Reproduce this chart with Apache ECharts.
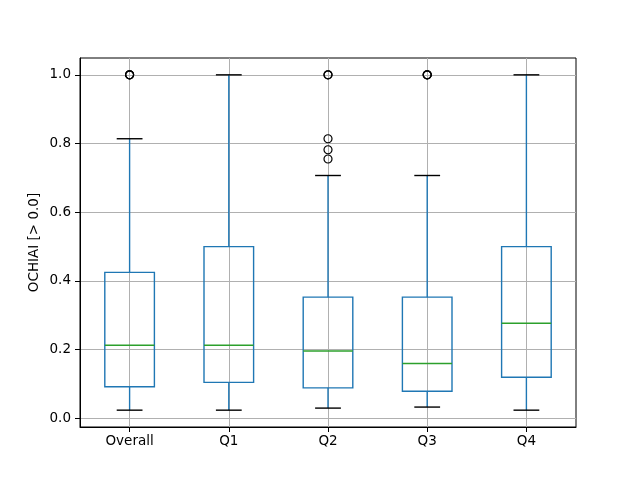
<!DOCTYPE html>
<html lang="en">
<head>
<meta charset="UTF-8">
<title>OCHIAI boxplot</title>
<script src="https://cdn.jsdelivr.net/npm/echarts@6/dist/echarts.min.js"></script>
</head>
<body style="margin:0">
<div id="main" style="width:640px;height:480px;"></div>
<script type="text/javascript">
// data
var categories = ['Overall', 'Q1', 'Q2', 'Q3', 'Q4'];
var lowWhisker = [0.024, 0.024, 0.030, 0.033, 0.024];
var q1 = [0.092, 0.105, 0.089, 0.079, 0.120];
var median = [0.213, 0.213, 0.196, 0.160, 0.277];
var q3 = [0.425, 0.500, 0.353, 0.353, 0.500];
var highWhisker = [0.814, 1.000, 0.707, 0.707, 1.000];
// outliers: [category index, value]
var outliers = [
    [0, 1.0], [0, 1.0], [0, 1.0],
    [2, 1.0], [2, 1.0], [2, 0.814], [2, 0.782], [2, 0.755],
    [3, 1.0], [3, 1.0], [3, 1.0]
];
var yTicks = [0, 0.2, 0.4, 0.6, 0.8, 1.0];
var xTicks = [0, 1, 2, 3, 4];

var boxData = categories.map(function (c, i) {
    return [i, lowWhisker[i], q1[i], median[i], q3[i], highWhisker[i]];
});

var blue = '#1f77b4', green = '#2ca02c';

function renderBox(params, api) {
    var i = api.value(0);
    var band = api.size([1, 0])[0];
    var hb = band * 0.25, hc = band * 0.13;
    var lo = api.coord([i, api.value(1)]);
    var b1 = api.coord([i, api.value(2)]);
    var md = api.coord([i, api.value(3)]);
    var b3 = api.coord([i, api.value(4)]);
    var hi = api.coord([i, api.value(5)]);
    var x = lo[0];
    var lw = 1.4;
    return {
        type: 'group',
        children: [
            {type: 'line', shape: {x1: x, y1: lo[1], x2: x, y2: b1[1]}, style: {stroke: blue, lineWidth: lw}},
            {type: 'line', shape: {x1: x, y1: b3[1], x2: x, y2: hi[1]}, style: {stroke: blue, lineWidth: lw}},
            {type: 'rect', shape: {x: x - hb, y: b3[1], width: hb * 2, height: b1[1] - b3[1]},
                style: {fill: 'none', stroke: blue, lineWidth: lw}},
            {type: 'line', shape: {x1: x - hb, y1: md[1], x2: x + hb, y2: md[1]}, style: {stroke: green, lineWidth: lw}},
            {type: 'line', shape: {x1: x - hc, y1: lo[1], x2: x + hc, y2: lo[1]}, style: {stroke: '#000', lineWidth: lw}},
            {type: 'line', shape: {x1: x - hc, y1: hi[1], x2: x + hc, y2: hi[1]}, style: {stroke: '#000', lineWidth: lw}}
        ]
    };
}

var myChart = echarts.init(document.getElementById('main'));
var option = {
    animation: false,
    grid: {
        left: 80, right: 64, top: 58, bottom: 53,
        show: true, borderColor: '#000', borderWidth: 1, backgroundColor: '#fff'
    },
    xAxis: {
        type: 'value',
        min: -0.5,
        max: 4.5,
        axisLine: {show: true, onZero: false, lineStyle: {color: '#000'}},
        axisTick: {show: true, length: 5, customValues: xTicks, lineStyle: {color: '#000'}},
        axisLabel: {
            customValues: xTicks, margin: 7, color: '#000', fontSize: 13.5,
            fontFamily: 'DejaVu Sans',
            formatter: function (v) { return categories[Math.round(v)]; }
        },
        splitLine: {show: true, lineStyle: {color: '#b0b0b0', width: 1}}
    },
    yAxis: {
        type: 'value',
        min: -0.025,
        max: 1.049,
        name: 'OCHIAI [> 0.0]',
        nameLocation: 'middle',
        nameGap: 39,
        nameMoveOverlap: false,
        nameTextStyle: {color: '#000', fontSize: 13.5, fontFamily: 'DejaVu Sans'},
        axisLine: {show: true, onZero: false, lineStyle: {color: '#000'}},
        axisTick: {show: true, length: 5, customValues: yTicks, lineStyle: {color: '#000'}},
        axisLabel: {
            customValues: yTicks, margin: 9, color: '#000', fontSize: 13.5,
            fontFamily: 'DejaVu Sans',
            formatter: function (v) { return v.toFixed(1); }
        },
        splitLine: {show: true, lineStyle: {color: '#b0b0b0', width: 1}}
    },
    series: [
        {
            type: 'custom',
            renderItem: renderBox,
            encode: {x: 0, y: [1, 2, 3, 4, 5]},
            data: boxData,
            z: 2
        },
        {
            type: 'scatter',
            symbol: 'circle',
            symbolSize: 8,
            itemStyle: {color: 'rgba(0,0,0,0)', borderColor: '#000', borderWidth: 1.2, opacity: 1},
            data: outliers,
            z: 3
        }
    ]
};
myChart.setOption(option);
</script>
</body>
</html>
